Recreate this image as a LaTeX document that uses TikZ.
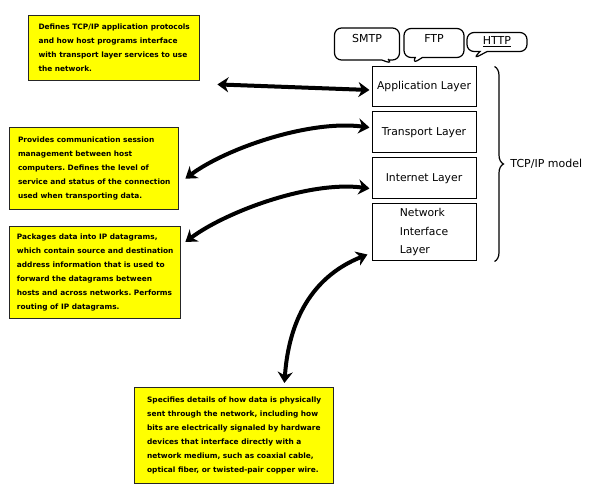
\documentclass[tikz,border=0pt]{standalone}
\usepackage{fontspec}
\setmainfont{DejaVu Sans}
\usepackage{tikz}
\usetikzlibrary{decorations.pathreplacing,positioning,arrows.meta,shapes.callouts}
\tikzset{>=latex}
\usepackage{xcolor}
\definecolor{noteyellow}{RGB}{255,255,0}
\frenchspacing

\tikzset{
  note/.style={draw=black!85, line width=1.4pt, fill=noteyellow, anchor=north west,
    align=left, inner xsep=4pt, inner ysep=4pt, font=\fontsize{7.4}{14}\selectfont\bfseries},
  layer/.style={draw, line width=1pt, minimum width=104pt, align=left,
    font=\fontsize{10.8}{18.5}\selectfont},
  bubble/.style={draw, line width=1.2pt, rectangle callout, rounded corners=7pt,
    inner sep=1pt, font=\fontsize{11}{12}\selectfont},
  link/.style={line width=4pt, line cap=round,
    {Stealth[length=11pt,width=15pt,inset=3.5pt]}-{Stealth[length=11pt,width=15pt,inset=3.5pt]}}
}

\begin{document}
\begin{tikzpicture}[x=1pt, y=-1pt]
\useasboundingbox (0,0) rectangle (592,489);

% layer stack
\node[layer, minimum height=40pt] (app) at (424,87) {Application Layer};
\node[layer, minimum height=41pt, below=4pt of app] (trans) {Transport Layer};
\node[layer, minimum height=41pt, below=4pt of trans] (inet) {Internet Layer};
\node[layer, minimum height=57pt, below=4pt of inet] (netif) {Network\\Interface\\Layer};

% protocol bubbles
\foreach \nm/\cx/\cy/\w/\h/\px/\py/\tdepth/\txt in
{smtp/367/44/65/32/393/64/12/SMTP, ftp/434/43/60/29/412/64/10/FTP, http/497/42/60/19/473/59/3/\underline{HTTP}}
\node[bubble, minimum width=\w pt, minimum height=\h pt, text depth=\tdepth pt,
      callout absolute pointer={(\px,\py)}] (\nm) at (\cx,\cy) {\txt};

% brace
\draw[decorate, decoration={brace, amplitude=9pt}, line width=1.2pt]
  ([xshift=18pt]app.north east) -- ([xshift=18pt]netif.south east)
  node[midway, right=12pt, font=\fontsize{11}{12}\selectfont] (model) {TCP/IP model};

% description notes
\node[note, minimum width=171pt, minimum height=65pt] (descApp) at (28,15)
  {Defines TCP/IP application protocols\\and how host programs interface\\with transport layer services to use\\the network.};
\node[note, minimum width=169pt, minimum height=82pt] (descTrans) at (9,127)
  {Provides communication session\\management between host\\computers. Defines the level of\\service and status of the connection\\used when transporting data.};
\node[note, minimum width=171pt, minimum height=92pt] (descInet) at (9,226)
  {Packages data into IP datagrams,\\which contain source and destination\\address information that is used to\\forward the datagrams between\\hosts and across networks. Performs\\routing of IP datagrams.};
\node[note, minimum width=199pt, minimum height=96pt] (descPhys) at (134,387)
  {Specifies details of how data is physically\\sent through the network, including how\\bits are electrically signaled by hardware\\devices that interface directly with a\\network medium, such as coaxial cable,\\optical fiber, or twisted-pair copper wire.};

% arrows
\draw[link] ([xshift=17pt,yshift=-3pt]descApp.south east) -- ([xshift=-2pt,yshift=-3pt]app.west);
\draw[link] ([xshift=6pt,yshift=-10pt]descTrans.east)
  .. controls +(40,-30) and +(-60,-8) .. ([xshift=-2pt,yshift=5pt]trans.west);
\draw[link] ([xshift=4pt,yshift=-16pt]descInet.north east)
  .. controls +(40,-30) and +(-60,-8) .. ([xshift=-2pt,yshift=-10pt]inet.west);
\draw[link] ([xshift=-50pt,yshift=4pt]descPhys.north east)
  .. controls +(5,-70) and +(-50,20) .. ([xshift=-4pt,yshift=7pt]netif.south west);
\end{tikzpicture}
\end{document}
